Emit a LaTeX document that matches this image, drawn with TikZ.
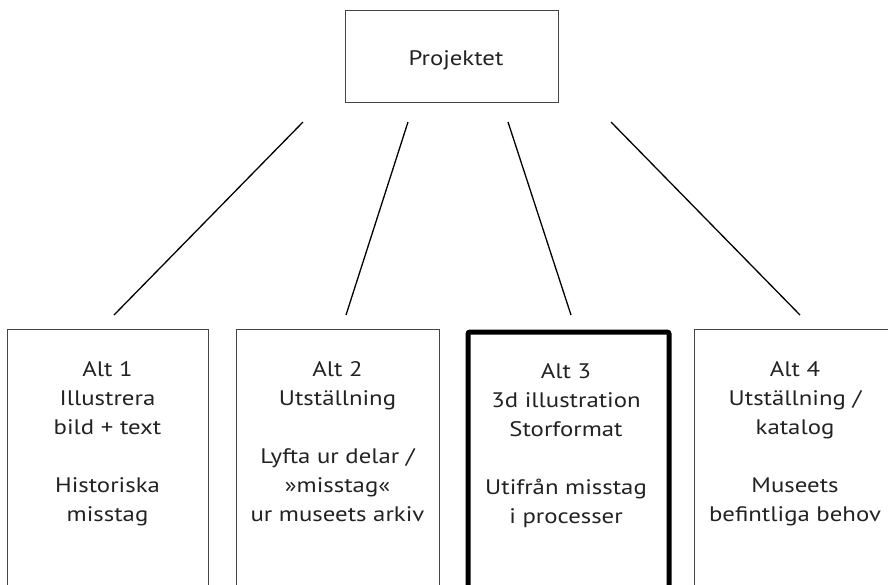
\documentclass[tikz,border=0pt]{standalone}
\usepackage{fontspec}
\setmainfont[FakeStretch=1.18]{PT Sans}
\definecolor{txt}{HTML}{222222}
\definecolor{frame}{HTML}{444444}
\begin{document}
\begin{tikzpicture}[x=1pt,y=-1pt,
  conn/.style={draw=black,line width=1.3pt},
  thinbox/.style={draw=frame,line width=1pt,rectangle,inner sep=0pt},
  thickbox/.style={draw=black,line width=5pt,rectangle,rounded corners=2pt,inner sep=0pt},
  label/.style={font=\fontsize{21}{29}\selectfont,text=txt,align=center,inner sep=0pt,anchor=north},
]
\useasboundingbox (0,0) rectangle (888,584);
\clip (0,0) rectangle (888,584);
\fill[white] (0,0) rectangle (888,584);
% top box
\node[thinbox,minimum width=213pt,minimum height=92pt,anchor=north west] (top) at (345,10) {};
\node[font=\fontsize{21}{29}\selectfont,text=txt,inner sep=0pt,anchor=base] (toptxt) at (456,65) {Projektet};
% alt boxes
\node[thinbox,minimum width=201pt,minimum height=300pt,anchor=north west] (b1) at (7,329) {};
\node[thinbox,minimum width=203pt,minimum height=300pt,anchor=north west] (b2) at (236,329) {};
\node[thickbox,minimum width=201pt,minimum height=300pt,anchor=north west] (b3) at (465.5,329.5) {};
\node[thinbox,minimum width=202pt,minimum height=300pt,anchor=north west] (b4) at (694,329) {};
% texts
\node[label] (t1) at (107.5,361) {Alt 1\\Illustrera\\bild + text\\[29pt]Historiska\\misstag};
\node[label] (t2) at (337.5,361) {Alt 2\\Utställning\\[29pt]Lyfta ur delar /\\»misstag«\\ur museets arkiv};
\node[label] (t3) at (566,363) {Alt 3\\3d illustration\\Storformat\\[29pt]Utifrån misstag\\i processer};
\node[label] (t4) at (795,361) {Alt 4\\Utställning /\\katalog\\[29pt]Museets\\befintliga behov};
% connectors
\coordinate (c1a) at (303,122); \coordinate (c1b) at (114,315);
\coordinate (c2a) at (408,122); \coordinate (c2b) at (346,315);
\coordinate (c3a) at (508,122); \coordinate (c3b) at (571,315);
\coordinate (c4a) at (611,122); \coordinate (c4b) at (800,315);
\draw[conn] (c1a) -- (c1b);
\draw[conn] (c2a) -- (c2b);
\draw[conn] (c3a) -- (c3b);
\draw[conn] (c4a) -- (c4b);
\end{tikzpicture}
\end{document}
